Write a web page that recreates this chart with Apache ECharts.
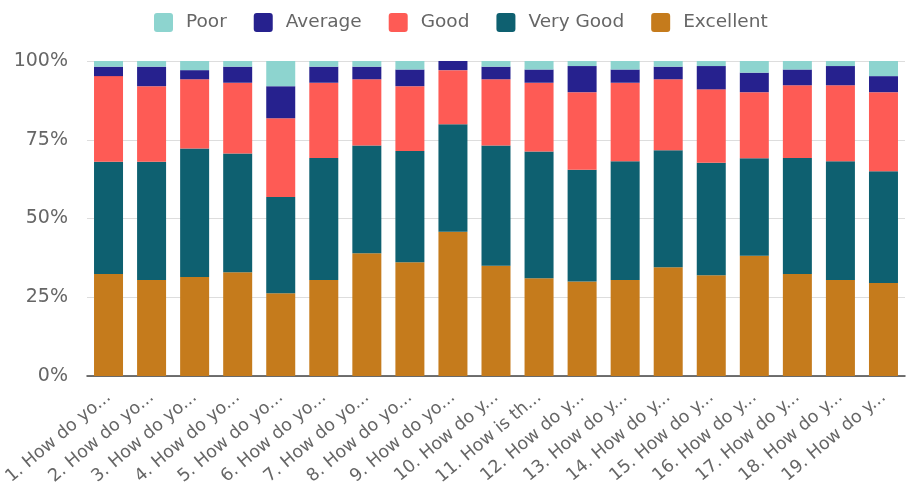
<!DOCTYPE html>
<html><head><meta charset="utf-8">
<script src="https://cdn.jsdelivr.net/npm/echarts@6/dist/echarts.min.js"></script>
<style>html,body{margin:0;padding:0;background:#fff}#c{width:907px;height:501px}</style>
</head><body><div id="c"></div>
<script>
const categories = ["1. How do yo...","2. How do yo...","3. How do yo...","4. How do yo...","5. How do yo...","6. How do yo...","7. How do yo...","8. How do yo...","9. How do yo...","10. How do y...","11. How is th...","12. How do y...","13. How do y...","14. How do y...","15. How do y...","16. How do y...","17. How do y...","18. How do y...","19. How do y..."];
const excellent = [32.4,30.5,31.4,32.9,26.3,30.5,39.0,36.1,45.8,35.0,31.0,30.0,30.5,34.5,32.0,38.2,32.4,30.5,29.5];
const veryGood  = [35.6,37.5,40.8,37.7,30.5,38.7,34.2,35.3,34.1,38.2,40.3,35.5,37.7,37.2,35.7,30.9,36.8,37.7,35.5];
const good      = [27.2,24.0,22.0,22.5,25.0,23.9,21.0,20.6,17.2,21.0,21.8,24.6,24.9,22.5,23.3,21.0,23.1,24.1,25.1];
const average   = [3.0,6.2,2.9,5.1,10.2,5.1,4.0,5.3,2.9,4.0,4.2,8.3,4.2,4.0,7.4,6.2,5.0,6.1,5.1];
const poor      = [1.8,1.8,2.9,1.8,8.0,1.8,1.8,2.7,0,1.8,2.7,1.6,2.7,1.8,1.6,3.7,2.7,1.6,4.8];
const yTicks = ["0%","25%","50%","75%","100%"];

const font = "DejaVu Sans";
const mk = (name, data, color) => ({name, type:'bar', stack:'s', data, barWidth:29, itemStyle:{color}});
const chart = echarts.init(document.getElementById('c'), null, {renderer:'canvas'});
chart.setOption({
  animation:false,
  textStyle:{fontFamily:font},
  legend:{top:8, left:149, itemWidth:19, itemHeight:19, itemGap:27,
    icon:'path://M3,0 L16,0 Q19,0 19,3 L19,16 Q19,19 16,19 L3,19 Q0,19 0,16 L0,3 Q0,0 3,0 Z',
    textStyle:{fontFamily:font, fontSize:18.5, color:'#666', padding:[0,0,0,8]},
    data:['Poor','Average','Good','Very Good','Excellent']},
  grid:{left:87, right:2, top:61, bottom:125},
  xAxis:{type:'category', data:categories,
    axisLine:{lineStyle:{color:'#444', width:1.5}}, axisTick:{show:false},
    axisLabel:{rotate:40, interval:0, fontFamily:font, fontSize:17.5, color:'#666', margin:19}},
  yAxis:{type:'value', min:0, max:100, interval:25,
    axisLabel:{fontFamily:font, fontSize:19, color:'#666', margin:19,
      formatter:v=>yTicks[v/25]},
    splitLine:{lineStyle:{color:'#ddd'}}},
  series:[
    mk('Excellent', excellent, '#c57b1c'),
    mk('Very Good', veryGood, '#0e6070'),
    mk('Good', good, '#fe5b55'),
    mk('Average', average, '#26218e'),
    mk('Poor', poor, '#8dd4cf')
  ]
});
</script></body></html>
